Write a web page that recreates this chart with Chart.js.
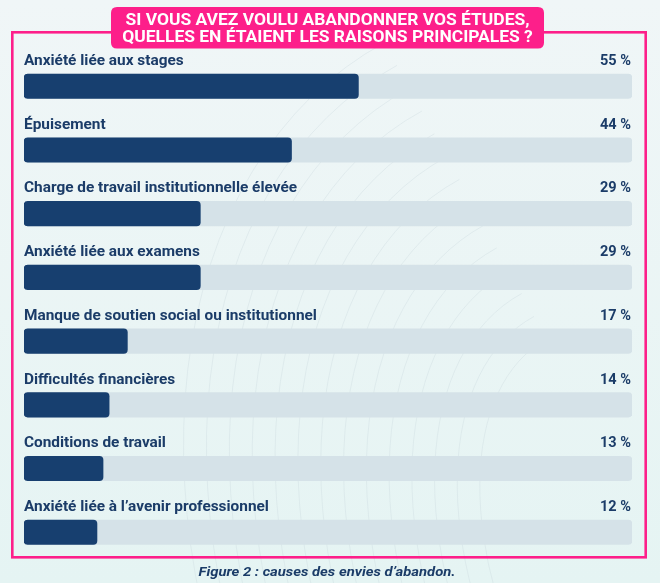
<!DOCTYPE html>
<html>
<head>
<meta charset="utf-8">
<script src="https://cdn.jsdelivr.net/npm/chart.js@4.4.0/dist/chart.umd.min.js"></script>
<style>
  html, body { margin: 0; padding: 0; background: #eef6f6; }
  #wrap { width: 660px; height: 583px; position: relative; }
</style>
</head>
<body>
<div id="wrap"><canvas id="c" width="660" height="583"></canvas></div>
<script>
const categories = [
  "Anxiété liée aux stages",
  "Épuisement",
  "Charge de travail institutionnelle élevée",
  "Anxiété liée aux examens",
  "Manque de soutien social ou institutionnel",
  "Difficultés financières",
  "Conditions de travail",
  "Anxiété liée à l’avenir professionnel"
];
const values = [55, 44, 29, 29, 17, 14, 13, 12];
const trackValues = [100, 100, 100, 100, 100, 100, 100, 100];
const titleLines = ["SI VOUS AVEZ VOULU ABANDONNER VOS ÉTUDES,", "QUELLES EN ÉTAIENT LES RAISONS PRINCIPALES ?"];
const caption = "Figure 2 : causes des envies d’abandon.";

const NAVY = "#173f6f";
const TRACK = "#d5e2e8";
const PINK = "#fd1f8a";
const TEXT = "#1b3c68";

function rr(ctx, x, y, w, h, r) {
  ctx.beginPath();
  ctx.moveTo(x + r, y);
  ctx.lineTo(x + w - r, y);
  ctx.quadraticCurveTo(x + w, y, x + w, y + r);
  ctx.lineTo(x + w, y + h - r);
  ctx.quadraticCurveTo(x + w, y + h, x + w - r, y + h);
  ctx.lineTo(x + r, y + h);
  ctx.quadraticCurveTo(x, y + h, x, y + h - r);
  ctx.lineTo(x, y + r);
  ctx.quadraticCurveTo(x, y, x + r, y);
  ctx.closePath();
}

function drawText(ctx, text, x, y, font, color, align, sx) {
  ctx.save();
  ctx.font = font;
  ctx.fillStyle = color;
  ctx.textAlign = align;
  ctx.textBaseline = "alphabetic";
  ctx.translate(x, y);
  ctx.scale(sx, 1);
  ctx.fillText(text, 0, 0);
  ctx.restore();
}

function fitScale(ctx, font, text, target) {
  ctx.save();
  ctx.font = font;
  const w = ctx.measureText(text).width;
  ctx.restore();
  return target / w;
}

const deco = {
  id: "deco",
  beforeDraw(chart) {
    const ctx = chart.ctx;
    const g = ctx.createLinearGradient(0, 0, 0, 583);
    g.addColorStop(0, "#f0f6f7");
    g.addColorStop(1, "#e5f4f3");
    ctx.save();
    ctx.fillStyle = g;
    ctx.fillRect(0, 0, 660, 583);
    ctx.strokeStyle = "rgba(200,215,220,0.35)";
    ctx.lineWidth = 1;
    for (let i = 0; i < 14; i++) {
      ctx.beginPath();
      ctx.ellipse(700, 620, 180 + i * 22, 320 + i * 26, -0.5, Math.PI, 1.5 * Math.PI);
      ctx.stroke();
    }
    ctx.strokeStyle = PINK;
    ctx.lineWidth = 2.6;
    ctx.strokeRect(12.3, 32.3, 633.4, 525);
    ctx.restore();
  },
  afterDraw(chart) {
    const ctx = chart.ctx;
    const yScale = chart.scales.y;
    const xScale = chart.scales.x;
    const lf = "bold 14.5px Roboto";
    const sxL = fitScale(ctx, lf, categories[2], 273);
    const sxP = fitScale(ctx, lf, "55 %", 31);
    categories.forEach((c, i) => {
      const yc = yScale.getPixelForValue(i);
      const barTop = yc - 12.25;
      drawText(ctx, c, xScale.left, barTop - 9, lf, TEXT, "left", sxL);
      drawText(ctx, values[i] + " %", xScale.right - 1, barTop - 9, lf, TEXT, "right", sxP);
    });
    ctx.save();
    ctx.fillStyle = PINK;
    rr(ctx, 111, 7, 433, 41.5, 6);
    ctx.fill();
    ctx.restore();
    const tf = "bold 17px Roboto";
    const sxT = fitScale(ctx, tf, titleLines[0], 404);
    drawText(ctx, titleLines[0], 327.5, 24.5, tf, "#ffffff", "center", sxT);
    drawText(ctx, titleLines[1], 327.5, 41.5, tf, "#ffffff", "center", sxT);
    const cf = "italic bold 13.5px Roboto";
    const sxC = fitScale(ctx, cf, caption, 257);
    drawText(ctx, caption, 327, 576, cf, TEXT, "center", sxC);
  }
};

new Chart(document.getElementById("c"), {
  type: "bar",
  data: {
    labels: categories,
    datasets: [
      {
        data: values,
        backgroundColor: NAVY,
        barThickness: 24.5,
        borderRadius: 4,
        borderSkipped: false,
        grouped: false,
        order: 1
      },
      {
        data: trackValues,
        backgroundColor: TRACK,
        barThickness: 24.5,
        borderRadius: 4,
        borderSkipped: false,
        grouped: false,
        order: 2
      }
    ]
  },
  options: {
    indexAxis: "y",
    responsive: false,
    animation: false,
    layout: { padding: { left: 24, right: 28, top: 54.4, bottom: 18.9 } },
    scales: {
      x: { display: false, min: 0, max: 100 },
      y: { display: false }
    },
    plugins: { legend: { display: false }, tooltip: { enabled: false }, title: { display: false } }
  },
  plugins: [deco]
});
</script>
</body>
</html>
